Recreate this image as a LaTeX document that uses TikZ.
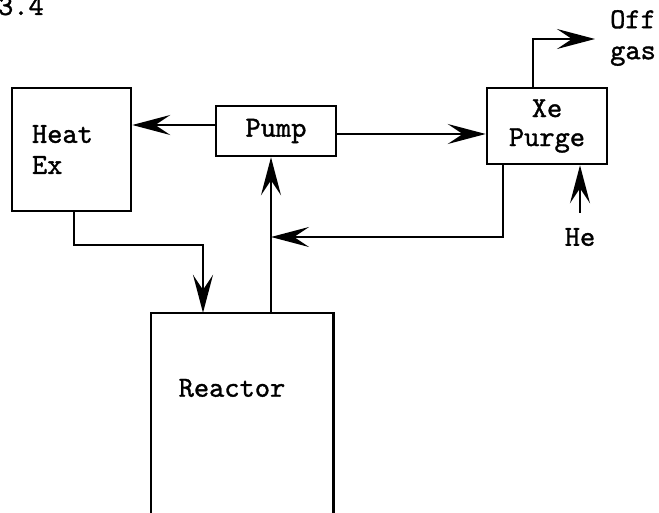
\documentclass[tikz,border=0pt]{standalone}
\usepackage{fontspec}
\newfontfamily\typew{lmmono10-regular.otf}[FakeBold=1.2]
\usetikzlibrary{arrows.meta}
\begin{document}
\begin{tikzpicture}[x=1pt,y=-1pt,
  every node/.style={font=\typew\fontsize{29}{31}\selectfont},
  box/.style={draw, line width=2.6pt, inner sep=0pt},
  flow/.style={line width=2.6pt},
  arr/.style={flow, -{Stealth[length=38pt,width=20pt,inset=15pt]}}]
\useasboundingbox (0,0) rectangle (659,513);
% blocks
\node[box, minimum width=119pt, minimum height=123pt, text width=79pt, align=left] (heat) at (71.5,149.5) {Heat\\Ex};
\node[box, minimum width=120pt, minimum height=50pt] (pump) at (276,131) {Pump};
\node[box, minimum width=120pt, minimum height=76pt, align=center] (xe) at (547,126) {Xe\\[-2pt]Purge};
\node[minimum width=182pt, minimum height=210pt, inner sep=0pt] (reactor) at (242,418) {};
\draw[line width=2.6pt] (reactor.south west) -- (reactor.north west) -- (reactor.north east) -- (reactor.south east);
\node (reactorlabel) at (232,388) {Reactor};
% labels
\node[anchor=west, align=left, inner sep=0pt] (offgas) at (610,38) {Off\\gas};
\node[inner sep=0pt] (he) at (580,237) {He};
\node[anchor=base east, inner sep=0pt] (fig) at (44,15) {3.4};
% coordinates
\coordinate (offend) at (595,39);
\coordinate (hestart) at (580,213);
\coordinate (junc) at (271,237);
\coordinate (hturn) at (203,245);
% connectors
\draw[arr] ([yshift=6pt]pump.west) -- ([yshift=6pt]pump.west -| heat.east);
\draw[arr] ([yshift=-3pt]pump.east) -- ([yshift=-3pt]pump.east -| xe.west);
\draw[arr] ([xshift=-14pt]xe.north) |- (offend);
\draw[arr] (hestart) -- (hestart |- xe.south);
\draw[arr] ([xshift=-44pt]xe.south) |- (junc);
\draw[arr] (junc |- reactor.north) -- (junc |- pump.south);
\draw[arr] ([xshift=2.5pt]heat.south) |- (hturn) -- (hturn |- reactor.north);
\end{tikzpicture}
\end{document}
